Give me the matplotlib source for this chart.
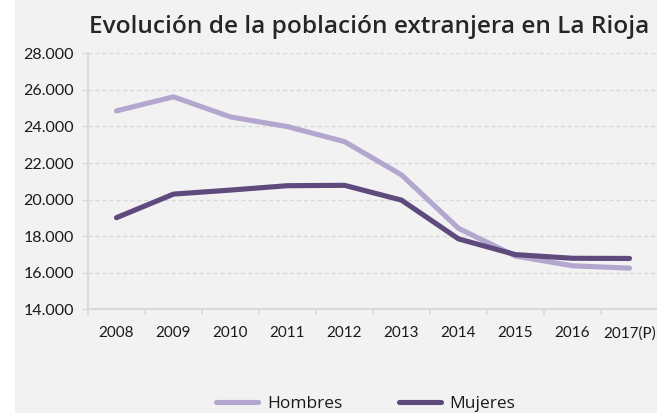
import matplotlib
matplotlib.use("Agg")
import matplotlib.pyplot as plt
from matplotlib.ticker import FuncFormatter, FixedLocator
from matplotlib.patches import Rectangle

years = ["2008", "2009", "2010", "2011", "2012", "2013", "2014", "2015", "2016", "2017(P)"]
hombres = [24850, 25620, 24520, 23990, 23170, 21350, 18430, 16910, 16380, 16250]
mujeres = [19010, 20300, 20520, 20760, 20780, 19970, 17850, 16990, 16790, 16780]
yticks = [14000, 16000, 18000, 20000, 22000, 24000, 26000, 28000]

c_h = "#b4a7cf"
c_m = "#5f4a7d"
grid_c = "#d9d9d9"
bg = "#f2f2f2"

W, H = 657, 413
fig = plt.figure(figsize=(W / 100, H / 100), dpi=100, facecolor="white")
fig.patches.append(Rectangle((15 / W, 0), 1, 1, transform=fig.transFigure,
                             facecolor=bg, edgecolor="none", zorder=-10))

ax = fig.add_axes([88 / W, 1 - 309.3 / H, 570 / W, (309.3 - 53.3) / H])
ax.patch.set_alpha(0)

x = list(range(len(years)))
ax.plot(x, hombres, color=c_h, lw=3.7, solid_capstyle="round", solid_joinstyle="round",
        label="Hombres", zorder=3)
ax.plot(x, mujeres, color=c_m, lw=3.7, solid_capstyle="round", solid_joinstyle="round",
        label="Mujeres", zorder=4)

ax.set_xlim(-0.5, len(years) - 0.5)
ax.set_ylim(14000, 28000)
ax.set_yticks(yticks)
ax.yaxis.set_major_formatter(FuncFormatter(lambda v, p: f"{int(v):,}".replace(",", ".")))
ax.grid(axis="y", color=grid_c, ls=(0, (3, 2)), lw=1.0, zorder=0)

ax.set_xticks(x)
ax.set_xticklabels(years)
ax.xaxis.set_minor_locator(FixedLocator([i - 0.5 for i in range(len(years) + 1)]))
ax.tick_params(axis="x", which="major", length=0, pad=12)
ax.tick_params(axis="x", which="minor", length=4, color=grid_c, width=1.2)
ax.tick_params(axis="y", length=4.3, color=grid_c, width=1.0, pad=6)

tick_font = "Lato"
for lab in ax.get_xticklabels():
    lab.set_fontfamily(tick_font)
    lab.set_fontsize(11.0)
    lab.set_color("#1a1a1a")
for lab in ax.get_yticklabels():
    lab.set_fontfamily(tick_font)
    lab.set_fontsize(11.5)
    lab.set_color("#1a1a1a")

for s in ["top", "right"]:
    ax.spines[s].set_visible(False)
for s in ["left", "bottom"]:
    ax.spines[s].set_color(grid_c)
    ax.spines[s].set_linewidth(1.5)

title_font = ["Open Sans", "DejaVu Sans"]
fig.text(89 / W, 1 - 33.3 / H, "Evolución de la población extranjera en La Rioja",
         ha="left", va="baseline", fontsize=17.6, fontweight="semibold",
         family=title_font, color="#262626")

leg = fig.legend(handles=ax.get_lines(), loc="center", bbox_to_anchor=(366 / W, 1 - 404 / H),
                 ncol=2, frameon=False, handlelength=2.4, handletextpad=0.5,
                 columnspacing=3.3, prop={"family": title_font, "size": 12.5})
for t in leg.get_texts():
    t.set_color("#1a1a1a")

fig.savefig("out.png", dpi=100, facecolor=fig.get_facecolor())
